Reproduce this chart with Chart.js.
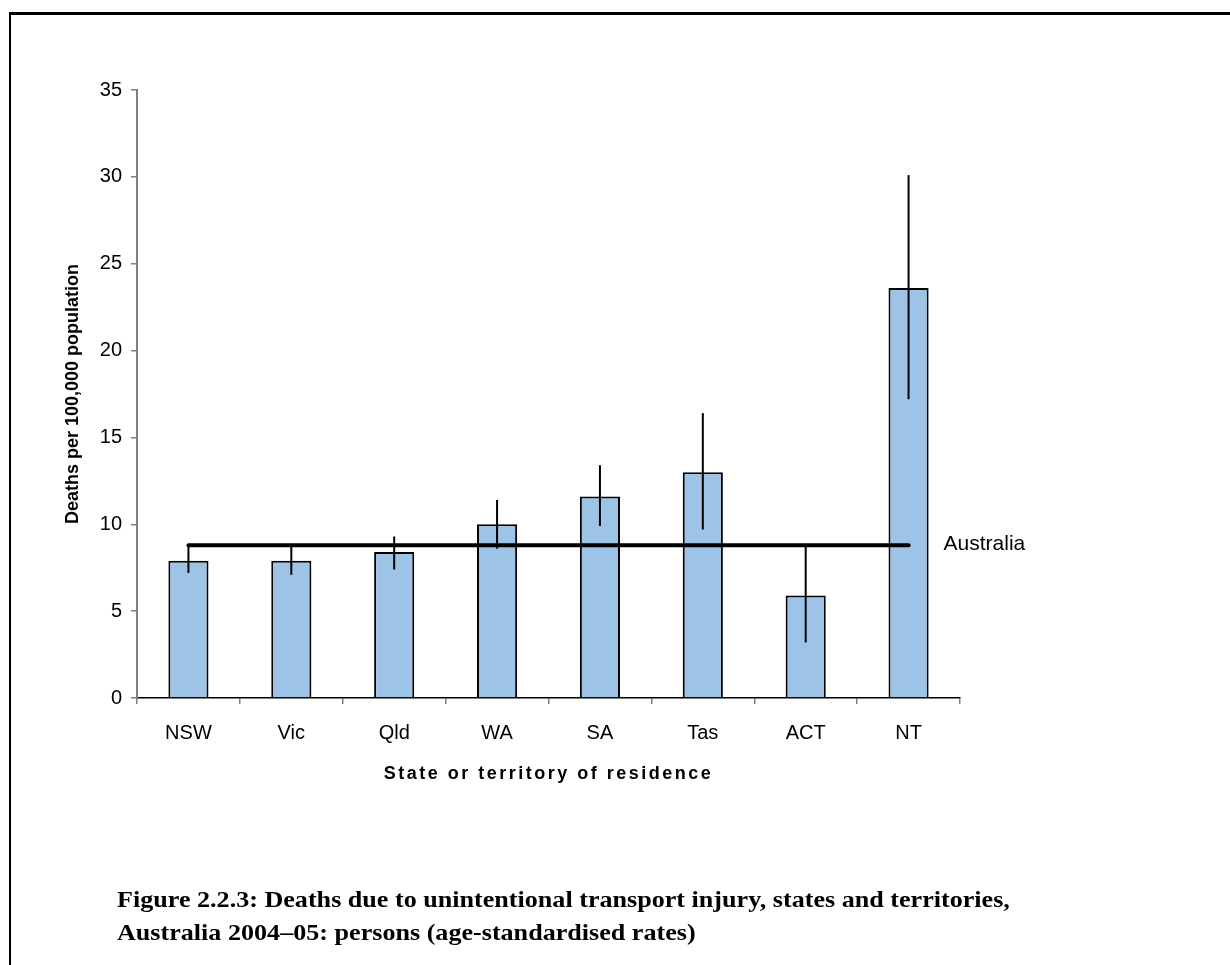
<!DOCTYPE html>
<html>
<head>
<meta charset="utf-8">
<script src="https://cdn.jsdelivr.net/npm/chart.js"></script>
<style>
  html, body { margin: 0; padding: 0; background: #ffffff; }
  #wrap { position: relative; width: 1230px; height: 965px; overflow: hidden; }
  #frame { position: absolute; left: 9px; top: 12px; width: 1240px; height: 1000px;
           border-left: 2px solid #000; border-top: 3px solid #000; box-sizing: border-box; }
  #chart { position: absolute; left: 0; top: 0; }
  #caption { position: absolute; left: 117px; top: 883px; margin: 0;
             font-family: "Liberation Serif", serif; font-weight: bold; font-size: 23px;
             line-height: 33px; color: #000; white-space: nowrap;
             transform: scaleX(1.135); transform-origin: 0 0; }
</style>
</head>
<body>
<div id="wrap">
  <div id="frame"></div>
  <canvas id="chart" width="1230" height="965"></canvas>
  <p id="caption">Figure 2.2.3: Deaths due to unintentional transport injury, states and territories,<br>Australia 2004&#8211;05: persons (age-standardised rates)</p>
</div>
<script>
// --- Data ---
const states = ['NSW', 'Vic', 'Qld', 'WA', 'SA', 'Tas', 'ACT', 'NT'];
const rates = [7.9, 7.9, 8.4, 10.0, 11.6, 13.0, 5.9, 23.6];
const ciLow = [7.2, 7.1, 7.4, 8.6, 9.9, 9.7, 3.2, 17.2];
const ciHigh = [8.8, 8.8, 9.3, 11.4, 13.4, 16.4, 8.8, 30.1];
const australiaRate = [8.8, 8.8, 8.8, 8.8, 8.8, 8.8, 8.8, 8.8];
const yTicks = [0, 5, 10, 15, 20, 25, 30, 35];

const fontFamily = '"Liberation Sans", Arial, sans-serif';

// error bars, the Australia label and the spaced-out x title
const errorBars = {
    id: 'errorBars',
    afterDatasetsDraw(chart) {
        const ctx = chart.ctx;
        const x = chart.scales.x, y = chart.scales.y;
        ctx.save();
        ctx.strokeStyle = '#000';
        ctx.lineWidth = 2;
        states.forEach((s, i) => {
            const px = x.getPixelForValue(i);
            ctx.beginPath();
            ctx.moveTo(px, y.getPixelForValue(ciLow[i]));
            ctx.lineTo(px, y.getPixelForValue(ciHigh[i]));
            ctx.stroke();
        });
        const meta = chart.getDatasetMeta(1);
        const last = meta.data[meta.data.length - 1];
        ctx.fillStyle = '#000';
        ctx.font = '21px ' + fontFamily;
        ctx.textBaseline = 'middle';
        ctx.fillText('Australia', last.x + 35, last.y - 1);

        ctx.font = 'bold 18px ' + fontFamily;
        ctx.letterSpacing = '2.5px';
        ctx.textAlign = 'center';
        ctx.fillText('State or territory of residence', (x.left + x.right) / 2, x.top + 76);
        ctx.restore();
    }
};

new Chart(document.getElementById('chart'), {
    data: {
        labels: states,
        datasets: [{
            type: 'bar',
            data: rates,
            backgroundColor: '#9dc3e6',
            borderColor: '#000',
            borderWidth: 2,
            barPercentage: 0.39,
            categoryPercentage: 1,
            order: 2
        }, {
            type: 'line',
            data: australiaRate,
            borderColor: '#000',
            borderWidth: 4,
            borderCapStyle: 'round',
            pointRadius: 0,
            order: 1
        }]
    },
    options: {
        responsive: false,
        animation: false,
        layout: { padding: { left: 0, top: 90, right: 270, bottom: 167 } },
        plugins: { legend: { display: false }, tooltip: { enabled: false } },
        scales: {
            x: {
                afterFit: s => { s.height = 100; },
                grid: { drawOnChartArea: false, tickLength: 6, color: '#808080', lineWidth: 1.5 },
                border: { color: '#000', width: 1.5 },
                ticks: { color: '#000', padding: 17, font: { family: fontFamily, size: 20 } }
            },
            y: {
                min: 0, max: 35,
                afterFit: s => { s.width = 137; },
                afterBuildTicks: s => { s.ticks = yTicks.map(v => ({ value: v })); },
                grid: { drawOnChartArea: false, tickLength: 6, color: '#808080', lineWidth: 1.5 },
                border: { color: '#808080', width: 2 },
                ticks: { color: '#000', padding: 9, font: { family: fontFamily, size: 20 } },
                title: { display: true, text: 'Deaths per 100,000 population', color: '#000',
                         padding: { top: 62 }, font: { family: fontFamily, size: 18, weight: 'bold' } }
            }
        }
    },
    plugins: [errorBars]
});
</script>
</body>
</html>
